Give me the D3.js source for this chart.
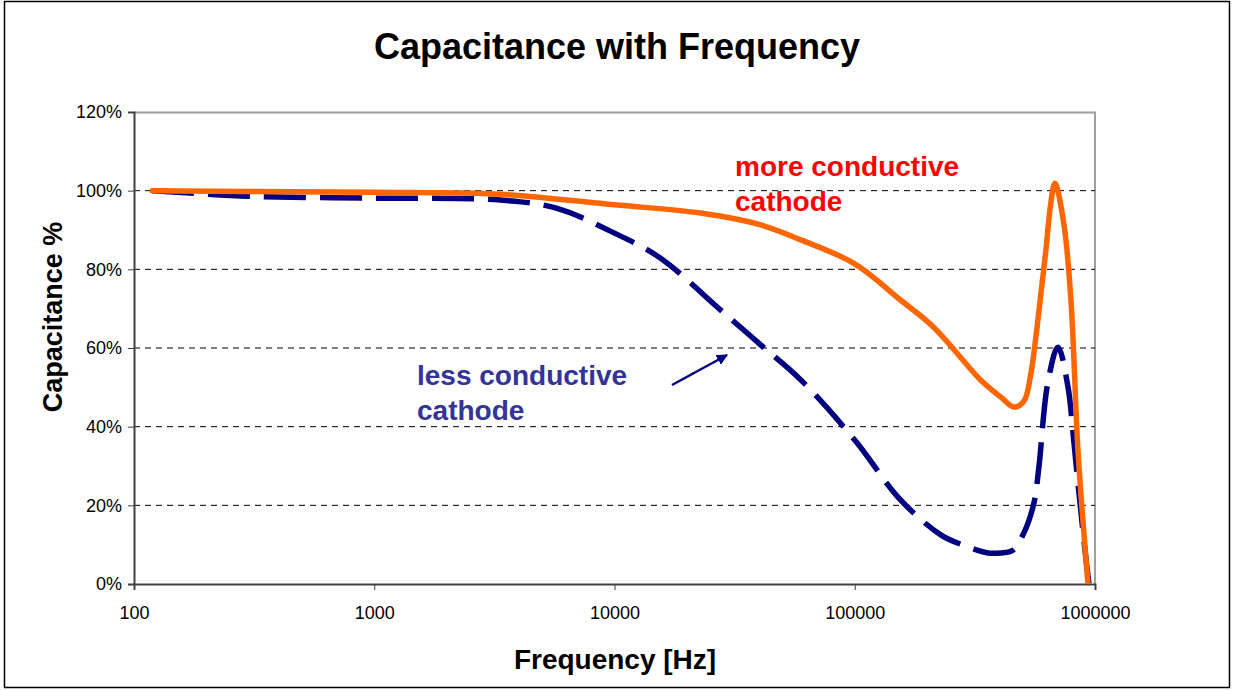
<!DOCTYPE html>
<html>
<head>
<meta charset="utf-8">
<script src="https://cdn.jsdelivr.net/npm/d3@7"></script>
<style>
  body { margin: 0; background: #fff; }
  svg text { font-family: Arial, "Liberation Sans", Helvetica, sans-serif; }
</style>
</head>
<body>
<div id="chart"></div>
<script>
// data
var moreFreq = [119, 300, 1000, 3350, 10000, 22800, 40600, 59600, 100000, 155000, 213000, 335000, 406000, 460000, 506000, 541000, 568000, 596000, 625000, 652000, 681000, 743000, 794000, 849000, 899000, 935000];
var moreCap  = [100, 99.8, 99.6, 99.1, 96.4, 94.3, 91.3, 87.5, 81.4, 72.2, 65.3, 51.8, 47.5, 45.0, 46.5, 53.5, 63, 74, 85, 96, 101.9, 91.3, 72.2, 34.1, 13, 0];

var lessFreq = [119, 300, 1000, 3350, 5680, 10000, 15500, 27600, 40600, 59600, 100000, 155000, 228000, 282000, 358000, 406000, 455000, 506000, 557000, 584000, 636000, 701000, 772000, 810000, 849000, 918000, 944000];
var lessCap  = [100, 98.6, 98.1, 97.6, 95.6, 89.2, 82.9, 69.7, 60.8, 51.9, 36.6, 21.4, 12.5, 9.9, 7.9, 7.9, 8.6, 13, 20.6, 29.7, 51.1, 60.2, 50.1, 38.4, 25.7, 6.1, 0];

var xTicks = [100, 1000, 10000, 100000, 1000000];
var yTicks = [0, 20, 40, 60, 80, 100, 120];

var W = 1233, H = 690;
var margin = {top: 112, right: 138, bottom: 106, left: 134},
    width = W - margin.left - margin.right,
    height = H - margin.top - margin.bottom;

var root = d3.select("#chart").append("svg")
    .attr("width", W)
    .attr("height", H);

// outer frame
root.append("rect")
    .attr("x", 4.5).attr("y", 1.5)
    .attr("width", W - 8).attr("height", H - 4)
    .attr("fill", "none").attr("stroke", "#000").attr("stroke-width", 1.5);

root.append("text")
    .attr("x", 617).attr("y", 59)
    .attr("text-anchor", "middle")
    .style("font-size", "36px").style("font-weight", "bold")
    .text("Capacitance with Frequency");

var svg = root.append("g")
    .attr("transform", "translate(" + margin.left + "," + margin.top + ")");

var x = d3.scaleLog().domain([100, 1000000]).range([0, width]);
var y = d3.scaleLinear().domain([0, 120]).range([height, 0]);

// plot area border (top/right grey)
svg.append("path")
    .attr("d", "M0,0.5H" + width + "V" + height)
    .attr("fill", "none").attr("stroke", "#a0a0a0").attr("stroke-width", 2);

// gridlines
svg.append("g").selectAll("line")
  .data(yTicks.filter(function(d){ return d > 0 && d < 120; }))
  .enter().append("line")
    .attr("x1", 0).attr("x2", width)
    .attr("y1", function(d){ return y(d); })
    .attr("y2", function(d){ return y(d); })
    .attr("stroke", "#000").attr("stroke-width", 1)
    .attr("stroke-dasharray", "6,5");

// axes
var yAxis = svg.append("g")
    .call(d3.axisLeft(y).tickValues(yTicks).tickSize(6).tickPadding(6)
      .tickFormat(function(d){ return d + "%"; }));
yAxis.select(".domain").attr("stroke", "#404040").attr("stroke-width", 2);
yAxis.selectAll(".tick line").attr("stroke", "#404040");
yAxis.selectAll("text").style("font-size", "18px").attr("fill", "#000");

var xAxis = svg.append("g")
    .attr("transform", "translate(0," + height + ")")
    .call(d3.axisBottom(x).tickValues(xTicks).tickSize(6).tickPadding(16)
      .tickFormat(d3.format("d")));
xAxis.select(".domain").attr("stroke", "#404040").attr("stroke-width", 2);
xAxis.selectAll(".tick line").attr("stroke", "#404040");
xAxis.selectAll("text").style("font-size", "18px").attr("fill", "#000");

// axis titles
root.append("text")
    .attr("transform", "translate(62,317) rotate(-90)")
    .attr("text-anchor", "middle")
    .style("font-size", "27px").style("font-weight", "bold")
    .text("Capacitance %");

root.append("text")
    .attr("x", 615).attr("y", 669)
    .attr("text-anchor", "middle")
    .style("font-size", "28px").style("font-weight", "bold")
    .text("Frequency [Hz]");

// lines
var line = d3.line()
    .x(function(d){ return x(d[0]); })
    .y(function(d){ return y(d[1]); })
    .curve(d3.curveCatmullRom.alpha(0.5));

svg.append("clipPath").attr("id", "clip")
  .append("rect").attr("x", 0).attr("y", -10).attr("width", width).attr("height", height + 10);

svg.append("path")
    .datum(lessFreq.map(function(f, i){ return [f, lessCap[i]]; }))
    .attr("d", line)
    .attr("clip-path", "url(#clip)")
    .attr("fill", "none").attr("stroke", "#000080").attr("stroke-width", 5.5)
    .attr("stroke-dasharray", "42,14");

svg.append("path")
    .datum(moreFreq.map(function(f, i){ return [f, moreCap[i]]; }))
    .attr("d", line)
    .attr("clip-path", "url(#clip)")
    .attr("fill", "none").attr("stroke", "#FF6600").attr("stroke-width", 5.5)
    .attr("stroke-linecap", "round");

// annotations
var more = root.append("text")
    .attr("x", 735).attr("y", 176)
    .attr("fill", "#FF0000")
    .style("font-size", "28px").style("font-weight", "bold");
more.append("tspan").attr("x", 735).text("more conductive");
more.append("tspan").attr("x", 735).attr("dy", 35).text("cathode");

var less = root.append("text")
    .attr("x", 417).attr("y", 385)
    .attr("fill", "#333399")
    .style("font-size", "28px").style("font-weight", "bold");
less.append("tspan").attr("x", 417).text("less conductive");
less.append("tspan").attr("x", 417).attr("dy", 35).text("cathode");

root.append("defs").append("marker")
    .attr("id", "arrow")
    .attr("viewBox", "0 0 10 10")
    .attr("refX", 9).attr("refY", 5)
    .attr("markerWidth", 4.5).attr("markerHeight", 4.5)
    .attr("orient", "auto")
  .append("path")
    .attr("d", "M0,0L10,5L0,10z")
    .attr("fill", "#000080");

root.append("line")
    .attr("x1", 672).attr("y1", 385)
    .attr("x2", 727).attr("y2", 355)
    .attr("stroke", "#000080").attr("stroke-width", 2.5)
    .attr("marker-end", "url(#arrow)");
</script>
</body>
</html>
